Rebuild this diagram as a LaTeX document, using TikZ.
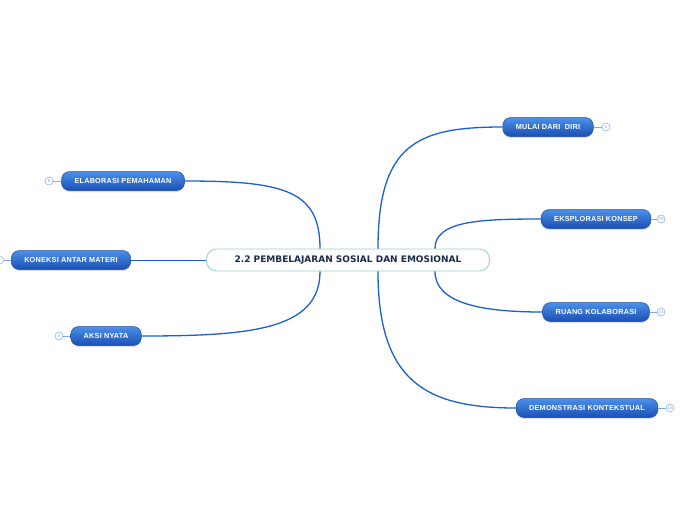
\documentclass[tikz,border=0pt]{standalone}
\usepackage{fontspec}
\setmainfont{DejaVu Sans}
\newfontfamily\topicfont[LetterSpace=3]{Liberation Sans}
\usetikzlibrary{calc,shadows}

\definecolor{branchblue}{HTML}{1B5FD0}
\definecolor{pilltop}{HTML}{4C90E8}
\definecolor{pillbottom}{HTML}{1A4FB4}
\definecolor{pillborder}{HTML}{1E4C9E}
\definecolor{mainborder}{HTML}{96D3CB}
\definecolor{maintext}{HTML}{1B2A4A}
\definecolor{badgeline}{HTML}{7FA8E6}

\tikzset{
  maintopic/.style={draw=mainborder, line width=0.9pt, fill=white, rounded corners=10pt,
    minimum width=283pt, minimum height=22pt, inner sep=0pt,
    font=\fontsize{9}{10}\selectfont\bfseries, text=maintext},
  subtopic/.style={draw=pillborder, line width=0.5pt, rounded corners=8pt,
    top color=pilltop, bottom color=pillbottom,
    drop shadow={opacity=0.25, shadow xshift=0pt, shadow yshift=-1.6pt},
    minimum height=19pt, inner xsep=13pt, inner ysep=0pt,
    font=\topicfont\fontsize{7.3}{8}\selectfont\bfseries, text=white},
  badge/.style={circle, draw=badgeline, line width=0.5pt, fill=white, minimum size=8pt,
    inner sep=0pt, font=\fontsize{4.2}{5}\selectfont, text=badgeline},
  stub/.style={draw=badgeline, line width=0.6pt},
  branch/.style={draw=branchblue, line width=1.3pt}
}

\begin{document}
\begin{tikzpicture}[x=1pt,y=-1pt]
  \useasboundingbox (0,0) rectangle (696,520);

  % Central topic
  \node[maintopic] (center) at (348,260) {2.2 PEMBELAJARAN SOSIAL DAN EMOSIONAL};

  % Right side topics
  \node[subtopic] (mulai) at (548,127) {MULAI DARI\ \ DIRI};
  \node[subtopic] (eksplorasi) at (596,219) {EKSPLORASI KONSEP};
  \node[subtopic] (ruang) at (596,312) {RUANG KOLABORASI};
  \node[subtopic] (demonstrasi) at (587,408) {DEMONSTRASI KONTEKSTUAL};

  % Left side topics
  \node[subtopic] (elaborasi) at (123,181) {ELABORASI PEMAHAMAN};
  \node[subtopic] (koneksi) at (71,260) {KONEKSI ANTAR MATERI};
  \node[subtopic] (aksi) at (106,336) {AKSI NYATA};

  % Branches
  \draw[branch] ($(center.north)+(30,0)$) .. controls +(0,-105) and +(-85,0) .. (mulai.west);
  \draw[branch] ($(center.north)+(87,0)$) .. controls +(0,-28) and +(-60,0) .. (eksplorasi.west);
  \draw[branch] ($(center.south)+(87,0)$) .. controls +(0,32) and +(-60,0) .. (ruang.west);
  \draw[branch] ($(center.south)+(30,0)$) .. controls +(0,110) and +(-90,0) .. (demonstrasi.west);
  \draw[branch] ($(center.north)+(-28,0)$) .. controls +(0,-58) and +(100,0) .. (elaborasi.east);
  \draw[branch, line width=0.9pt] (center.west) -- (koneksi.east);
  \draw[branch] ($(center.south)+(-28,0)$) .. controls +(0,58) and +(110,0) .. (aksi.east);

  % Count badges
  \node[badge] (b-mulai) at (606,127) {5};
  \node[badge] (b-eksplorasi) at (661,219) {20};
  \node[badge] (b-ruang) at (661,312) {21};
  \node[badge] (b-demonstrasi) at (670,408) {13};
  \node[badge] (b-elaborasi) at (49,181) {6};
  \node[badge] (b-koneksi) at (0,260) {};
  \node[badge] (b-aksi) at (59,336) {3};
  \draw[stub] (mulai) -- (b-mulai);
  \draw[stub] (eksplorasi) -- (b-eksplorasi);
  \draw[stub] (ruang) -- (b-ruang);
  \draw[stub] (demonstrasi) -- (b-demonstrasi);
  \draw[stub] (elaborasi) -- (b-elaborasi);
  \draw[stub] (koneksi) -- (b-koneksi);
  \draw[stub] (aksi) -- (b-aksi);
\end{tikzpicture}
\end{document}
